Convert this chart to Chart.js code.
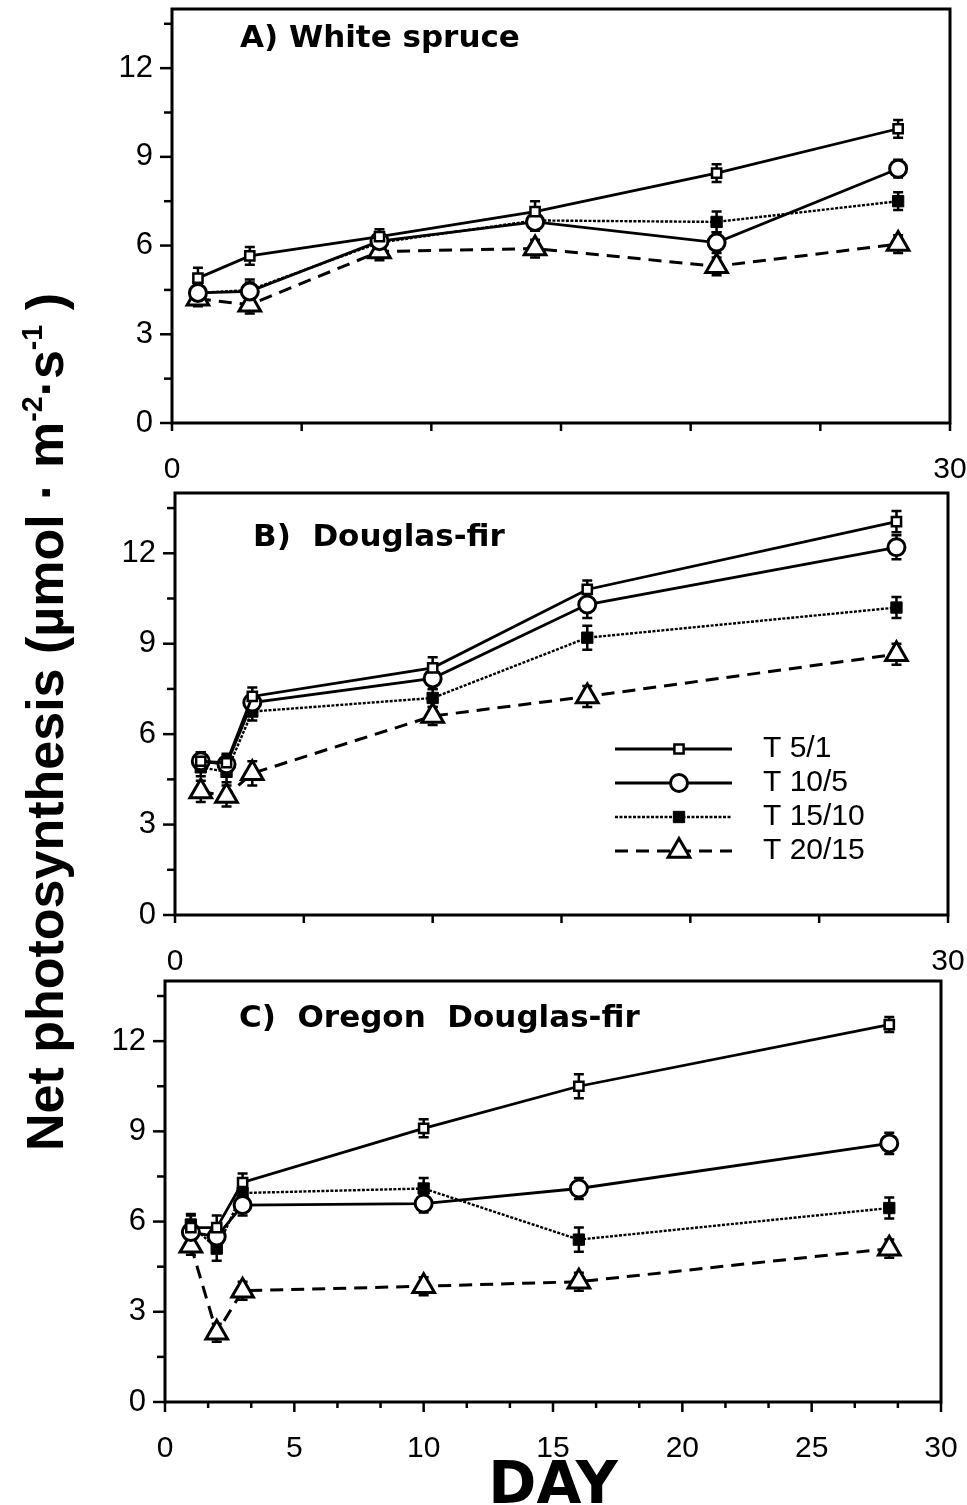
<!DOCTYPE html>
<html>
<head>
<meta charset="utf-8">
<script src="https://cdn.jsdelivr.net/npm/chart.js@4.4.1/dist/chart.umd.min.js"></script>
<style>
  html, body { margin:0; padding:0; background:#fff; }
  #fig { position:relative; width:967px; height:1505px; overflow:hidden; background:#fff; }
  #fig canvas { position:absolute; left:0; }
  #ytitle { position:absolute; left:45px; top:722px; transform:translate(-50%,-50%) rotate(-90deg); white-space:nowrap;
            font-family:"Liberation Sans", Arial, sans-serif; font-weight:bold; font-size:52px; color:#000; line-height:1; }
  #ytitle sup { font-size:0.55em; vertical-align:0.75em; line-height:0; }
  #xtitle { position:absolute; left:553px; top:1483px; transform:translate(-50%,-50%);
            font-family:"DejaVu Sans", sans-serif; font-weight:bold; font-size:58px; line-height:1; color:#000; }
</style>
</head>
<body>
<div id="fig">
  <canvas id="cA" width="967" height="490" style="top:0px"></canvas>
  <canvas id="cB" width="967" height="490" style="top:490px"></canvas>
  <canvas id="cC" width="967" height="530" style="top:975px"></canvas>
  <div id="ytitle">Net photosynthesis (µmol · m<sup>-2</sup>·s<sup>-1</sup> )</div>
  <div id="xtitle">DAY</div>
</div>
<script>
// ---------------- DATA ----------------
const seriesNames = ['T 5/1', 'T 10/5', 'T 15/10', 'T 20/15'];
const panelTitles = ['A) White spruce', 'B)  Douglas-fir', 'C)  Oregon  Douglas-fir'];

const daysA  = [1, 3, 8, 14, 21, 28];
const daysBC = [1, 2, 3, 10, 16, 28];

// Panel A: White spruce
const A_T5_1   = [4.9, 5.65, 6.3, 7.15, 8.45, 9.95];
const A_T10_5  = [4.4, 4.45, 6.15, 6.8, 6.1, 8.6];
const A_T15_10 = [4.4, 4.5, 6.1, 6.85, 6.8, 7.5];
const A_T20_15 = [4.2, 4.0, 5.8, 5.9, 5.3, 6.05];
const A_T5_1_err   = [0.35, 0.3, 0.25, 0.35, 0.3, 0.3];
const A_T10_5_err  = [0.3, 0.3, 0.3, 0.3, 0.35, 0.3];
const A_T15_10_err = [0.3, 0.35, 0.3, 0.35, 0.35, 0.3];
const A_T20_15_err = [0.25, 0.3, 0.3, 0.3, 0.3, 0.3];

// Panel B: Douglas-fir
const B_T5_1   = [5.1, 5.05, 7.25, 8.2, 10.8, 13.05];
const B_T10_5  = [5.1, 5.0, 7.05, 7.85, 10.3, 12.2];
const B_T15_10 = [4.9, 4.75, 6.75, 7.2, 9.2, 10.2];
const B_T20_15 = [4.1, 3.95, 4.7, 6.6, 7.25, 8.65];
const B_T5_1_err   = [0.3, 0.3, 0.3, 0.35, 0.3, 0.35];
const B_T10_5_err  = [0.3, 0.3, 0.3, 0.35, 0.45, 0.4];
const B_T15_10_err = [0.3, 0.35, 0.3, 0.3, 0.4, 0.35];
const B_T20_15_err = [0.35, 0.35, 0.4, 0.3, 0.35, 0.35];

// Panel C: Oregon Douglas-fir
const C_T5_1   = [5.8, 5.8, 7.3, 9.1, 10.5, 12.55];
const C_T10_5  = [5.65, 5.5, 6.55, 6.6, 7.1, 8.6];
const C_T15_10 = [5.9, 5.1, 6.95, 7.1, 5.4, 6.45];
const C_T20_15 = [5.2, 2.3, 3.7, 3.85, 4.0, 5.1];
const C_T5_1_err   = [0.4, 0.4, 0.3, 0.3, 0.4, 0.25];
const C_T10_5_err  = [0.4, 0.35, 0.35, 0.3, 0.35, 0.35];
const C_T15_10_err = [0.35, 0.4, 0.3, 0.35, 0.4, 0.35];
const C_T20_15_err = [0.3, 0.3, 0.3, 0.3, 0.3, 0.3];

// Tick values and labels
const yTickValues  = [0, 1.5, 3, 4.5, 6, 7.5, 9, 10.5, 12, 13.5];
const yTickLabels  = [0, 3, 6, 9, 12];
const xTickValuesAB = [0, 5, 10, 15, 20, 25, 30];
const xTickLabelsAB = [0, 30];
const xTickValuesC = [0, 5/3, 10/3, 5, 20/3, 25/3, 10, 35/3, 40/3, 15, 50/3, 55/3, 20, 65/3, 70/3, 25, 80/3, 85/3, 30];
const xTickLabelsC = [0, 5, 10, 15, 20, 25, 30];

// ---------------- STYLES ----------------
const STYLES = [
  { pointStyle:'rect',     radius:6.5, pbw:2.5, fill:'#fff', dash:[],      lw:2.8 },
  { pointStyle:'circle',   radius:8.5, pbw:3,   fill:'#fff', dash:[],      lw:2.8 },
  { pointStyle:'rect',     radius:8,   pbw:1,   fill:'#000', dash:[3, 1.5], lw:2.4 },
  { pointStyle:'triangle', radius:12.5, pbw:3,  fill:'#fff', dash:[13, 8], lw:3 }
];
const TICK_FONT = '"Liberation Sans Narrow", "Liberation Sans", Arial, sans-serif';

function near(a, list) { return list.some(v => Math.abs(v - a) < 1e-6); }

const panelPlugin = {
  id: 'panel',
  beforeDatasetsDraw(chart, args, o) {
    const ctx = chart.ctx, xs = chart.scales.x, ys = chart.scales.y;
    ctx.save();
    ctx.strokeStyle = '#000'; ctx.lineWidth = 2.5; ctx.setLineDash([]);
    chart.data.datasets.forEach(ds => {
      if (!ds.err) return;
      ds.data.forEach((p, j) => {
        const e = ds.err[j]; if (!e) return;
        const x = xs.getPixelForValue(p.x);
        const yl = ys.getPixelForValue(p.y - e), yh = ys.getPixelForValue(p.y + e);
        ctx.beginPath();
        ctx.moveTo(x, yl); ctx.lineTo(x, yh);
        ctx.moveTo(x - o.cap, yl); ctx.lineTo(x + o.cap, yl);
        ctx.moveTo(x - o.cap, yh); ctx.lineTo(x + o.cap, yh);
        ctx.stroke();
      });
    });
    ctx.restore();
  },
  afterDraw(chart, args, o) {
    const ctx = chart.ctx, ca = chart.chartArea, xs = chart.scales.x, ys = chart.scales.y;
    ctx.save();
    ctx.strokeStyle = '#000'; ctx.setLineDash([]);
    ctx.lineWidth = 3;
    ctx.strokeRect(ca.left, ca.top, ca.right - ca.left, ca.bottom - ca.top);
    ctx.lineWidth = 2.5;
    ys.ticks.forEach(t => {
      const y = ys.getPixelForValue(t.value);
      const major = near(t.value, yTickLabels);
      ctx.beginPath(); ctx.moveTo(ca.left - (major ? 12 : 8), y); ctx.lineTo(ca.left, y); ctx.stroke();
    });
    xs.ticks.forEach(t => {
      const x = xs.getPixelForValue(t.value);
      const major = near(t.value, [0, 5, 10, 15, 20, 25, 30]);
      ctx.beginPath(); ctx.moveTo(x, ca.bottom); ctx.lineTo(x, ca.bottom + (major ? o.xMajor : o.xMinor)); ctx.stroke();
    });
    ctx.fillStyle = '#000';
    ctx.font = 'bold 31px "DejaVu Sans", sans-serif';
    ctx.textBaseline = 'middle'; ctx.textAlign = 'left';
    ctx.fillText(o.title, ca.left + o.titleDx, ca.top + o.titleDy);
    if (o.legend) {
      const L = o.legend;
      chart.data.datasets.forEach((ds, i) => {
        const y = ca.top + L.dy0 + i * L.dy;
        ctx.save();
        ctx.strokeStyle = '#000';
        ctx.lineWidth = ds.borderWidth; ctx.setLineDash(ds.borderDash || []);
        ctx.beginPath(); ctx.moveTo(ca.left + L.x0, y); ctx.lineTo(ca.left + L.x1, y); ctx.stroke();
        ctx.setLineDash([]);
        ctx.fillStyle = ds.pointBackgroundColor; ctx.lineWidth = ds.pointBorderWidth;
        Chart.helpers.drawPoint(ctx, { pointStyle: ds.pointStyle, radius: ds.pointRadius, borderWidth: ds.pointBorderWidth, rotation: 0 }, ca.left + L.xm, y);
        ctx.restore();
        ctx.fillStyle = '#000'; ctx.font = L.font; ctx.textBaseline = 'middle'; ctx.textAlign = 'left';
        ctx.fillText(ds.label, ca.left + L.tx, y);
      });
    }
    ctx.restore();
  }
};

function buildChart(canvasId, days, values, errors, o) {
  const datasets = values.map((vals, i) => {
    const s = STYLES[i];
    return {
      label: seriesNames[i],
      data: days.map((d, j) => ({ x: d, y: vals[j] })),
      err: errors[i],
      showLine: true,
      borderColor: '#000', borderWidth: s.lw, borderDash: s.dash,
      pointStyle: s.pointStyle, pointRadius: s.radius, pointHoverRadius: s.radius,
      pointBorderWidth: s.pbw, pointBackgroundColor: s.fill, pointBorderColor: '#000',
      fill: false, tension: 0, clip: false
    };
  });
  return new Chart(document.getElementById(canvasId), {
    type: 'scatter',
    data: { datasets },
    plugins: [panelPlugin],
    options: {
      responsive: false, animation: false, devicePixelRatio: 1,
      layout: { autoPadding: false, padding: { top: o.top, right: o.right, left: 0, bottom: 0 } },
      plugins: {
        legend: { display: false }, tooltip: { enabled: false },
        panel: { cap: 5, xMajor: o.xMajor, xMinor: o.xMinor, title: o.title, titleDx: o.titleDx, titleDy: o.titleDy, legend: o.legend || null }
      },
      scales: {
        x: {
          type: 'linear', min: 0, max: 30,
          afterBuildTicks: ax => { ax.ticks = o.xTicks.map(v => ({ value: v })); },
          afterFit: s => { s.height = o.xh; s.paddingLeft = 0; s.paddingRight = 0; },
          grid: { display: false, drawTicks: false }, border: { display: false },
          ticks: { autoSkip: false, maxRotation: 0, padding: 29, color: '#000',
                   font: { family: TICK_FONT, size: 30 },
                   callback: v => near(v, o.xLabels) ? String(Math.round(v)) : '' }
        },
        y: {
          type: 'linear', min: 0, max: 14,
          afterBuildTicks: ax => { ax.ticks = yTickValues.map(v => ({ value: v })); },
          afterFit: s => { s.width = o.left; s.paddingTop = 0; s.paddingBottom = 0; },
          grid: { display: false, drawTicks: false }, border: { display: false },
          ticks: { autoSkip: false, padding: 19, color: '#000',
                   font: { family: TICK_FONT, size: 31 },
                   callback: v => near(v, yTickLabels) ? String(v) : '' }
        }
      }
    }
  });
}

buildChart('cA', daysA,
  [A_T5_1, A_T10_5, A_T15_10, A_T20_15],
  [A_T5_1_err, A_T10_5_err, A_T15_10_err, A_T20_15_err],
  { top: 9, right: 17, left: 172, xh: 67, xTicks: xTickValuesAB, xLabels: xTickLabelsAB, xMajor: 8, xMinor: 5,
    title: panelTitles[0], titleDx: 68, titleDy: 30 });

buildChart('cB', daysBC,
  [B_T5_1, B_T10_5, B_T15_10, B_T20_15],
  [B_T5_1_err, B_T10_5_err, B_T15_10_err, B_T20_15_err],
  { top: 3, right: 19, left: 175, xh: 65, xTicks: xTickValuesAB, xLabels: xTickLabelsAB, xMajor: 8, xMinor: 5,
    title: panelTitles[1], titleDx: 78, titleDy: 45,
    legend: { dy0: 256, dy: 34, x0: 440, x1: 557, xm: 504, tx: 588, font: '30px "Liberation Sans", Arial, sans-serif' } });

buildChart('cC', daysBC,
  [C_T5_1, C_T10_5, C_T15_10, C_T20_15],
  [C_T5_1_err, C_T10_5_err, C_T15_10_err, C_T20_15_err],
  { top: 6, right: 26, left: 165, xh: 103, xTicks: xTickValuesC, xLabels: xTickLabelsC, xMajor: 10, xMinor: 6,
    title: panelTitles[2], titleDx: 74, titleDy: 38 });
</script>
</body>
</html>
